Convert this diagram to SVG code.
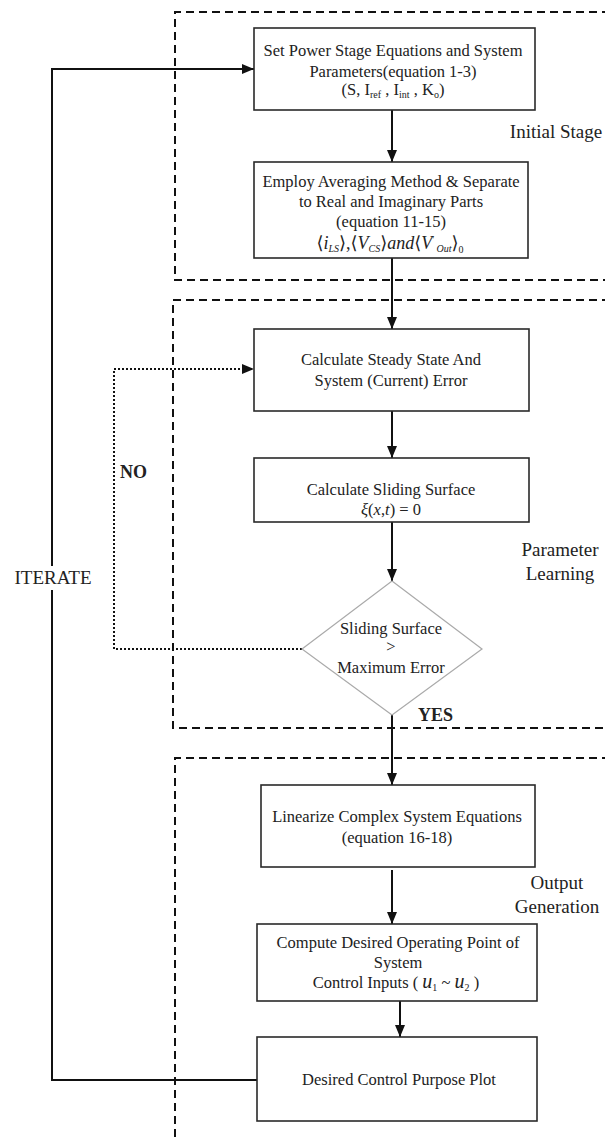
<svg xmlns="http://www.w3.org/2000/svg" width="605" height="1142" viewBox="0 0 605 1142">
<style>
.box{fill:#fff;stroke:#2a2a2a;stroke-width:1.6}
.dia{fill:#fff;stroke:#aaa;stroke-width:1.2}
.t{font-family:"Liberation Serif","DejaVu Serif",serif;font-size:16.5px;fill:#222;text-anchor:middle}
.lab{font-family:"Liberation Serif","DejaVu Serif",serif;font-size:19px;fill:#222;text-anchor:middle}
.b{font-family:"Liberation Serif","DejaVu Serif",serif;font-size:18px;font-weight:bold;fill:#222}
.i{font-style:italic}
.s{font-size:10px}
.m{font-size:18px}
.region{fill:none;stroke:#111;stroke-width:2;stroke-dasharray:8 5}
.c{fill:none;stroke:#111;stroke-width:2}
.dot{fill:none;stroke:#111;stroke-width:2;stroke-dasharray:2 2}
</style>
<defs>
<marker id="ah" viewBox="0 0 12 10" markerWidth="12" markerHeight="10" refX="12" refY="5" orient="auto" markerUnits="userSpaceOnUse">
<path d="M0,0 L12,5 L0,10 z" fill="#111"/>
</marker>
</defs>

<g id="regions">
<path class="region" d="M610 12 H175 V280 H610"/>
<path class="region" d="M610 300 H173 V728 H610"/>
<path class="region" d="M610 758 H175 V1145"/>
</g>

<g id="connectors">
<line class="c" x1="392" y1="110" x2="392" y2="162" marker-end="url(#ah)"/>
<line class="c" x1="392" y1="258" x2="392" y2="329" marker-end="url(#ah)"/>
<line class="c" x1="392" y1="411" x2="392" y2="458" marker-end="url(#ah)"/>
<line class="c" x1="392" y1="522" x2="392" y2="581" marker-end="url(#ah)"/>
<line class="c" x1="392" y1="715" x2="392" y2="785" marker-end="url(#ah)"/>
<line class="c" x1="392" y1="870" x2="392" y2="924" marker-end="url(#ah)"/>
<line class="c" x1="400" y1="1001" x2="400" y2="1037" marker-end="url(#ah)"/>
<path class="dot" d="M302 649 H114 V369 H254" marker-end="url(#ah)"/>
<path class="c" d="M257 1080 H52 V590"/>
<path class="c" d="M52 566 V69 H254" marker-end="url(#ah)"/>
</g>

<g id="n1">
<rect class="box" x="254" y="28" width="281" height="82"/>
<text class="t" x="393" y="56">Set Power Stage Equations and System</text>
<text class="t" x="393" y="77">Parameters(equation 1-3)</text>
<text class="t" x="393" y="95">(S, I<tspan class="s" dy="3">ref</tspan><tspan dy="-3"> , I</tspan><tspan class="s" dy="3">int</tspan><tspan dy="-3"> , K</tspan><tspan class="s" dy="3">o</tspan><tspan dy="-3">)</tspan></text>
</g>

<g id="n2">
<rect class="box" x="254" y="162" width="274" height="96"/>
<text class="t" x="391" y="187">Employ Averaging Method &amp; Separate</text>
<text class="t" x="391" y="207">to Real and Imaginary Parts</text>
<text class="t" x="391" y="227">(equation 11-15)</text>
<text class="t m" x="390" y="249">⟨<tspan class="i">i</tspan><tspan class="s i" dy="3">LS</tspan><tspan dy="-3">⟩,⟨</tspan><tspan class="i">V</tspan><tspan class="s i" dy="3">CS</tspan><tspan dy="-3">⟩</tspan><tspan class="i">and</tspan>⟨<tspan class="i">V</tspan><tspan class="s" dy="-6">'</tspan><tspan class="s i" dy="9"> Out</tspan><tspan dy="-3">⟩</tspan><tspan class="s" dy="4">0</tspan></text>
</g>

<g id="n3">
<rect class="box" x="254" y="329" width="275" height="82"/>
<text class="t" x="391" y="365">Calculate Steady State And</text>
<text class="t" x="391" y="386">System (Current) Error</text>
</g>

<g id="n4">
<rect class="box" x="254" y="458" width="275" height="64"/>
<text class="t" x="391" y="495">Calculate Sliding Surface</text>
<text class="t" x="391" y="515"><tspan class="i">ξ</tspan>(<tspan class="i">x</tspan>,<tspan class="i">t</tspan>) = 0</text>
</g>

<g id="n5">
<polygon class="dia" points="392,581 482,649 392,715 302,649"/>
<text class="t" x="391" y="634">Sliding Surface</text>
<text class="t" x="391" y="652">&gt;</text>
<text class="t" x="391" y="673">Maximum Error</text>
</g>

<g id="n6">
<rect class="box" x="261" y="785" width="274" height="82"/>
<text class="t" x="397" y="822">Linearize Complex System Equations</text>
<text class="t" x="397" y="843">(equation 16-18)</text>
</g>

<g id="n7">
<rect class="box" x="257" y="924" width="280" height="77"/>
<text class="t" x="398" y="948">Compute Desired Operating Point of</text>
<text class="t" x="398" y="968">System</text>
<text class="t" x="396" y="988">Control Inputs ( <tspan class="i" style="font-size:20px">u</tspan><tspan class="s" dy="3">1</tspan><tspan dy="-3"> ~ </tspan><tspan class="i" style="font-size:20px">u</tspan><tspan class="s" dy="3">2</tspan><tspan dy="-3"> )</tspan></text>
</g>

<g id="n8">
<rect class="box" x="257" y="1037" width="280" height="84"/>
<text class="t" x="399" y="1085">Desired Control Purpose Plot</text>
</g>

<g id="labels">
<text class="lab" x="556" y="138">Initial Stage</text>
<text class="lab" x="560" y="556">Parameter</text>
<text class="lab" x="560" y="580">Learning</text>
<text class="lab" x="557" y="889">Output</text>
<text class="lab" x="557" y="913">Generation</text>
<text class="lab" x="53" y="584">ITERATE</text>
<text class="b" x="120" y="478">NO</text>
<text class="b" x="418" y="721">YES</text>
</g>
</svg>
